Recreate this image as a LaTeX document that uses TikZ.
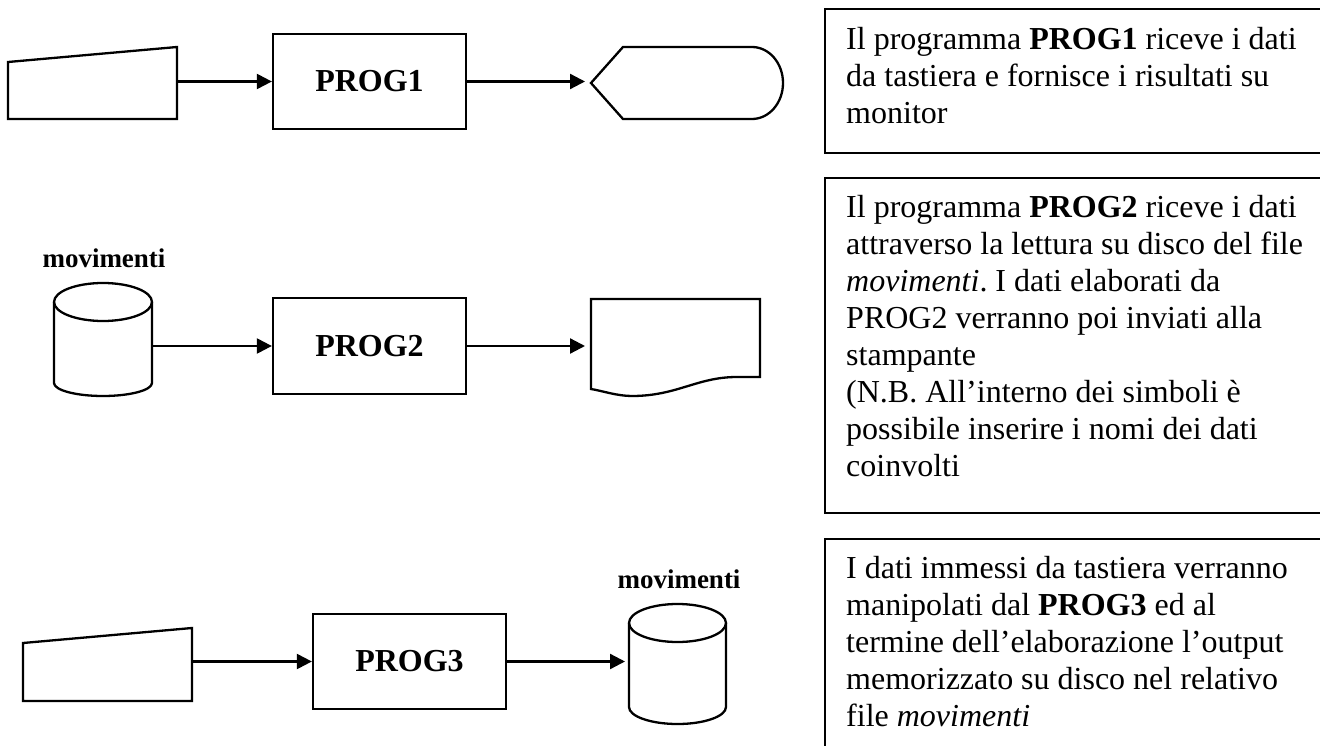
\documentclass[tikz,border=0pt]{standalone}
\usepackage{fontspec}
\setmainfont{Liberation Serif}
\usetikzlibrary{arrows.meta}
\frenchspacing
\begin{document}
\begin{tikzpicture}[x=1pt,y=-1pt,
  outline/.style={line width=2.3pt, line join=miter},
  holder/.style={inner sep=0pt, outer sep=0pt},
  progbox/.style={draw, line width=2.3pt, minimum width=193pt, minimum height=95pt,
    inner sep=0pt, font=\fontsize{32}{38}\selectfont\bfseries},
  flow/.style={line width=2.3pt, -{Triangle[length=15pt,width=15pt]}},
  filelabel/.style={anchor=base, inner sep=0pt, font=\fontsize{27}{32}\selectfont\bfseries},
  note/.style={anchor=base west, inner sep=0pt, font=\fontsize{32}{37}\selectfont},
  notebox/.style={line width=2.3pt}]
\useasboundingbox (0,0) rectangle (1320,746);
\clip (0,0) rectangle (1320,746);

% ---------- row 1: keyboard -> PROG1 -> monitor ----------
\node[holder, minimum width=169pt, minimum height=72pt] (kb1) at (92.5,83) {};
\draw[outline] (kb1.south west) -- (kb1.south east) -- (kb1.north east)
  -- ([yshift=-15pt]kb1.north west) -- cycle;
\node[progbox] (prog1) at (369.5,81.5) {PROG1};
\node[holder, minimum width=192pt, minimum height=72pt] (disp1) at (687,83) {};
\draw[outline] (disp1.west) -- ([xshift=32pt]disp1.north west)
  -- ([xshift=-31pt]disp1.north east)
  arc[start angle=90, end angle=-90, x radius=31pt, y radius=36pt]
  -- ([xshift=32pt]disp1.south west) -- cycle;
\draw[flow] (kb1.east |- prog1.west) -- (prog1.west);
\draw[flow, shorten >=6pt] (prog1.east) -- (prog1.east -| disp1.west);

% ---------- row 2: disk file -> PROG2 -> printer ----------
\node[filelabel] (lab1) at (104,267) {movimenti};
\node[holder, minimum width=98pt, minimum height=113pt] (db1) at (103,339.5) {};
\draw[outline] ([yshift=-19pt]db1.north west) -- ([yshift=13pt]db1.south west)
  arc[start angle=180, end angle=360, x radius=49pt, y radius=13pt]
  -- ([yshift=-19pt]db1.north east);
\draw[outline] ([yshift=-19pt]db1.north) ellipse[x radius=49pt, y radius=19pt];
\node[progbox, minimum height=96pt] (prog2) at (369.5,346) {PROG2};
\node[holder, minimum width=169pt, minimum height=97pt] (doc2) at (675.5,347.5) {};
\draw[outline] (doc2.north west) -- (doc2.north east) -- ([yshift=19pt]doc2.south east)
  -- ([xshift=-23pt, yshift=19pt]doc2.south east)
  .. controls +(-40pt,0pt) and +(45pt,0pt) .. ([xshift=41pt]doc2.south west)
  .. controls +(-15pt,0pt) and +(12pt,-2pt) .. ([yshift=7pt]doc2.south west)
  -- cycle;
\draw[flow] (db1.east |- prog2.west) -- (prog2.west);
\draw[flow, shorten >=6pt] (prog2.east) -- (prog2.east -| doc2.west);

% ---------- row 3: keyboard -> PROG3 -> disk file ----------
\node[holder, minimum width=169pt, minimum height=73pt] (kb3) at (107.5,664.5) {};
\draw[outline] (kb3.south west) -- (kb3.south east) -- (kb3.north east)
  -- ([yshift=-15pt]kb3.north west) -- cycle;
\node[progbox] (prog3) at (409.5,661.5) {PROG3};
\node[filelabel] (lab2) at (679,588) {movimenti};
\node[holder, minimum width=97pt, minimum height=120pt] (db2) at (677.5,664) {};
\draw[outline] ([yshift=-19pt]db2.north west) -- ([yshift=17pt]db2.south west)
  arc[start angle=180, end angle=360, x radius=48.5pt, y radius=17pt]
  -- ([yshift=-19pt]db2.north east);
\draw[outline] ([yshift=-19pt]db2.north) ellipse[x radius=48.5pt, y radius=19pt];
\draw[flow] (kb3.east |- prog3.west) -- (prog3.west);
\draw[flow, shorten >=4pt] (prog3.east) -- (prog3.east -| db2.west);

% ---------- explanatory notes ----------
\draw[notebox] (825,9) rectangle (1335,153);
\node[note] (note1) at (846,50) {\parbox[t]{470pt}{\raggedright
Il programma \textbf{PROG1} riceve i dati\\
da tastiera e fornisce i risultati su\\
monitor}};

\draw[notebox] (825,178) rectangle (1335,513);
\node[note] (note2) at (846,218) {\parbox[t]{470pt}{\raggedright
Il programma \textbf{PROG2} riceve i dati\\
attraverso la lettura su disco del file\\
\textit{movimenti}. I dati elaborati da\\
PROG2 verranno poi inviati alla\\
stampante\\
(N.B. All’interno dei simboli è\\
possibile inserire i nomi dei dati\\
coinvolti}};

\draw[notebox] (825,539) rectangle (1335,770);
\node[note] (note3) at (846,578) {\parbox[t]{470pt}{\raggedright
I dati immessi da tastiera verranno\\
manipolati dal \textbf{PROG3} ed al\\
termine dell’elaborazione l’output\\
memorizzato su disco nel relativo\\
file \textit{movimenti}}};
\end{tikzpicture}
\end{document}
